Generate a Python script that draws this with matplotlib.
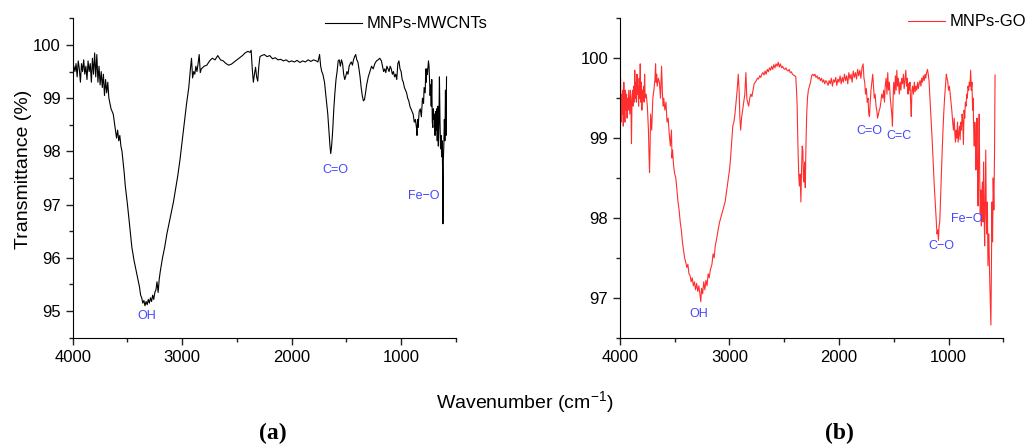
import matplotlib
matplotlib.use('Agg')
import matplotlib.pyplot as plt
from matplotlib.ticker import MultipleLocator

plt.rcParams['font.family'] = ['Liberation Sans', 'DejaVu Sans']

# (a) MNPs-MWCNTs spectrum
wn_a = [4000, 3990, 3980, 3970, 3960, 3950, 3940, 3930, 3920, 3910, 3900, 3890, 3880, 3870,
        3860, 3850, 3840, 3830, 3820, 3810, 3800, 3790, 3780, 3770, 3760, 3750, 3740, 3730,
        3720, 3710, 3700, 3690, 3680, 3670, 3660, 3650, 3640, 3630, 3620, 3610, 3600, 3590,
        3580, 3570, 3560, 3550, 3540, 3530, 3520, 3500, 3480, 3460, 3440, 3420, 3400, 3390,
        3380, 3370, 3360, 3350, 3340, 3330, 3320, 3310, 3300, 3290, 3280, 3270, 3260, 3250,
        3240, 3230, 3220, 3210, 3200, 3180, 3160, 3140, 3120, 3100, 3080, 3060, 3040, 3020,
        3000, 2980, 2960, 2940, 2925, 2915, 2905, 2895, 2885, 2875, 2865, 2855, 2845, 2835,
        2825, 2800, 2775, 2750, 2725, 2700, 2675, 2650, 2625, 2600, 2575, 2550, 2525, 2500,
        2475, 2450, 2425, 2400, 2380, 2370, 2360, 2350, 2340, 2330, 2320, 2310, 2300, 2290,
        2275, 2250, 2225, 2200, 2175, 2150, 2125, 2100, 2075, 2050, 2025, 2000, 1975, 1950,
        1925, 1900, 1875, 1850, 1825, 1800, 1775, 1760, 1745, 1735, 1725, 1715, 1700, 1690,
        1680, 1670, 1660, 1650, 1643, 1635, 1625, 1615, 1605, 1595, 1585, 1575, 1565, 1555,
        1545, 1535, 1525, 1515, 1505, 1495, 1485, 1475, 1465, 1455, 1445, 1435, 1425, 1415,
        1405, 1395, 1385, 1375, 1365, 1355, 1345, 1335, 1325, 1315, 1300, 1285, 1270, 1255,
        1240, 1225, 1210, 1195, 1180, 1170, 1160, 1150, 1140, 1130, 1120, 1110, 1100, 1090,
        1080, 1070, 1060, 1050, 1040, 1030, 1020, 1010, 1000, 990, 980, 970, 960, 950, 940,
        930, 920, 910, 900, 890, 880, 870, 860, 855, 850, 845, 835, 825, 815, 805, 795, 790,
        780, 775, 770, 765, 760, 750, 745, 740, 735, 730, 725, 720, 715, 710, 705, 700, 695,
        690, 685, 680, 675, 670, 665, 660, 655, 650, 645, 640, 635, 630, 625, 620, 618, 615,
        610, 605, 600, 595, 590, 585]
tr_a = [99.45, 99.6, 99.5, 99.65, 99.4, 99.7, 99.55, 99.3, 99.65, 99.5, 99.72, 99.45, 99.6, 99.35,
        99.7, 99.5, 99.65, 99.3, 99.75, 99.45, 99.85, 99.4, 99.82, 99.3, 99.6, 99.25, 99.5, 99.2,
        99.45, 99.05, 99.35, 99.1, 99.3, 99.0, 98.9, 98.8, 98.75, 98.7, 98.55, 98.4, 98.25, 98.4,
        98.2, 98.3, 98.1, 98.0, 97.8, 97.6, 97.35, 97.0, 96.6, 96.2, 95.95, 95.75, 95.55, 95.45,
        95.3, 95.25, 95.15, 95.2, 95.1, 95.18, 95.12, 95.22, 95.15, 95.25, 95.18, 95.3, 95.22, 95.35,
        95.4, 95.55, 95.35, 95.6, 95.75, 96.0, 96.2, 96.45, 96.65, 96.85, 97.05, 97.3, 97.55, 97.85,
        98.2, 98.55, 98.9, 99.2, 99.55, 99.75, 99.38, 99.5, 99.45, 99.6, 99.5, 99.65, 99.82, 99.48,
        99.55, 99.6, 99.62, 99.7, 99.75, 99.72, 99.8, 99.72, 99.7, 99.65, 99.62, 99.64, 99.68, 99.72,
        99.76, 99.8, 99.85, 99.88, 99.86, 99.9, 99.55, 99.3, 99.45, 99.58, 99.4, 99.32, 99.6, 99.78,
        99.8, 99.82, 99.78, 99.8, 99.74, 99.76, 99.72, 99.73, 99.7, 99.72, 99.68, 99.7, 99.68, 99.71,
        99.67, 99.7, 99.68, 99.72, 99.69, 99.72, 99.7, 99.68, 99.82, 99.6, 99.5, 99.45, 99.3, 99.1,
        98.9, 98.7, 98.4, 98.1, 97.96, 98.1, 98.4, 98.8, 99.1, 99.35, 99.5, 99.7, 99.72, 99.6,
        99.72, 99.65, 99.45, 99.35, 99.42, 99.5, 99.45, 99.6, 99.65, 99.68, 99.62, 99.72, 99.78, 99.82,
        99.72, 99.68, 99.55, 99.4, 99.2, 99.05, 98.95, 98.97, 99.1, 99.25, 99.4, 99.5, 99.6, 99.55,
        99.65, 99.7, 99.72, 99.75, 99.7, 99.6, 99.5, 99.55, 99.48, 99.6, 99.55, 99.5, 99.6, 99.55,
        99.45, 99.5, 99.4, 99.45, 99.35, 99.65, 99.7, 99.55, 99.5, 99.35, 99.3, 99.2, 99.15, 99.1, 99.0,
        98.95, 98.85, 98.8, 98.75, 98.7, 98.55, 98.6, 98.45, 98.3, 98.6, 98.45, 98.75, 98.8, 98.65, 99.0, 98.9, 99.2,
        99.1, 99.55, 99.3, 99.55, 99.45, 99.7, 99.6, 99.3, 99.05, 99.25, 98.85, 99.35, 98.55, 98.45, 98.8, 98.6, 98.7,
        98.3, 98.75, 98.4, 98.8, 98.2, 98.85, 98.1, 98.5, 99.4, 98.6, 98.05, 98.3, 97.9, 98.2, 97.5, 96.64, 97.8,
        98.1, 98.6, 98.2, 99.15, 98.3, 99.4]

# (b) MNPs-GO spectrum
wn_b = [4000, 3995, 3990, 3985, 3980, 3975, 3970, 3965, 3960, 3955, 3950, 3945, 3940, 3935,
        3930, 3925, 3920, 3910, 3905, 3900, 3895, 3890, 3885, 3880, 3875, 3870, 3865, 3860,
        3855, 3850, 3845, 3840, 3835, 3830, 3825, 3820, 3815, 3810, 3805, 3800, 3795, 3790,
        3785, 3780, 3775, 3770, 3760, 3750, 3740, 3735, 3730, 3725, 3720, 3710, 3700, 3690,
        3680, 3675, 3670, 3665, 3660, 3650, 3640, 3630, 3620, 3612, 3605, 3600, 3590, 3580,
        3570, 3560, 3550, 3540, 3530, 3525, 3520, 3510, 3500, 3490, 3480, 3470, 3460, 3450,
        3440, 3430, 3420, 3410, 3400, 3390, 3380, 3370, 3360, 3350, 3340, 3330, 3320, 3310,
        3300, 3290, 3280, 3270, 3262, 3255, 3245, 3235, 3225, 3215, 3205, 3195, 3185, 3175,
        3160, 3150, 3140, 3130, 3120, 3110, 3100, 3090, 3080, 3070, 3060, 3050, 3040, 3030,
        3020, 3010, 3000, 2990, 2980, 2970, 2960, 2950, 2940, 2930, 2920, 2912, 2905, 2898,
        2890, 2880, 2870, 2860, 2850, 2842, 2835, 2825, 2815, 2805, 2795, 2785, 2775, 2765,
        2755, 2745, 2735, 2725, 2715, 2705, 2695, 2685, 2675, 2665, 2655, 2645, 2635, 2625,
        2615, 2605, 2595, 2585, 2575, 2565, 2555, 2545, 2535, 2525, 2515, 2505, 2495, 2485,
        2475, 2465, 2455, 2445, 2435, 2425, 2415, 2405, 2395, 2388, 2382, 2375, 2368, 2362,
        2355, 2348, 2342, 2336, 2330, 2325, 2320, 2314, 2308, 2302, 2295, 2288, 2280, 2270,
        2260, 2250, 2240, 2230, 2220, 2210, 2200, 2190, 2180, 2170, 2160, 2150, 2140, 2130,
        2120, 2110, 2100, 2090, 2080, 2070, 2060, 2050, 2040, 2030, 2020, 2010, 2000, 1990,
        1980, 1970, 1960, 1950, 1940, 1930, 1920, 1910, 1900, 1890, 1880, 1870, 1860, 1850,
        1840, 1830, 1820, 1810, 1800, 1790, 1780, 1772, 1765, 1758, 1750, 1742, 1735, 1728,
        1722, 1715, 1708, 1700, 1692, 1685, 1678, 1670, 1662, 1655, 1648, 1640, 1632, 1625,
        1618, 1610, 1600, 1592, 1585, 1578, 1570, 1562, 1555, 1548, 1540, 1532, 1525, 1518,
        1512, 1506, 1500, 1492, 1485, 1478, 1472, 1465, 1458, 1450, 1442, 1435, 1428, 1420,
        1412, 1405, 1398, 1390, 1383, 1376, 1370, 1364, 1358, 1352, 1346, 1340, 1334, 1328,
        1320, 1312, 1305, 1298, 1290, 1282, 1275, 1268, 1260, 1252, 1245, 1238, 1230, 1222,
        1215, 1208, 1200, 1192, 1185, 1178, 1170, 1160, 1150, 1140, 1130, 1120, 1112, 1105,
        1098, 1092, 1086, 1080, 1074, 1068, 1060, 1052, 1044, 1036, 1028, 1020, 1014, 1008,
        1000, 992, 985, 978, 970, 962, 955, 948, 942, 936, 930, 924, 918, 912, 906, 900, 894,
        888, 882, 876, 870, 864, 858, 852, 846, 840, 834, 828, 822, 816, 810, 804, 798, 792,
        786, 780, 775, 770, 765, 760, 755, 750, 745, 740, 735, 730, 725, 720, 715, 710, 705,
        700, 695, 690, 685, 680, 675, 670, 665, 660, 655, 650, 645, 640, 632, 625, 618, 613,
        608, 603, 598, 592, 586, 580, 575]
tr_b = [99.4, 99.75, 99.2, 99.55, 99.3, 99.6, 99.15, 99.7, 99.4, 99.2, 99.6, 99.35, 99.55, 99.25,
        99.5, 99.35, 99.6, 99.3, 99.6, 99.45, 98.93, 99.5, 99.6, 99.4, 99.65, 99.45, 99.85, 99.5,
        99.7, 99.45, 99.8, 99.55, 99.65, 99.4, 99.75, 99.5, 99.93, 99.45, 99.7, 99.35, 99.6, 99.5,
        99.65, 99.45, 99.8, 99.5, 99.55, 99.4, 99.1, 98.8, 98.57, 98.9, 99.3, 99.1, 99.5, 99.6,
        99.75, 99.93, 99.7, 99.8, 99.65, 99.75, 99.7, 99.5, 99.9, 99.55, 99.4, 99.5, 99.35, 99.45,
        99.2, 99.25, 99.05, 98.9, 99.1, 98.75, 98.85, 98.65, 98.55, 98.5, 98.35, 98.2, 98.1, 97.95,
        97.85, 97.7, 97.6, 97.5, 97.45, 97.38, 97.42, 97.3, 97.28, 97.2, 97.25, 97.15, 97.2, 97.1,
        97.18, 97.08, 97.15, 97.05, 96.95, 97.12, 97.05, 97.2, 97.1, 97.22, 97.15, 97.3, 97.25, 97.35,
        97.42, 97.55, 97.5, 97.65, 97.72, 97.8, 97.88, 97.95, 98.0, 98.05, 98.1, 98.15, 98.2, 98.3,
        98.4, 98.5, 98.6, 98.75, 98.95, 99.15, 99.2, 99.3, 99.45, 99.6, 99.8, 99.6, 99.25, 99.1,
        99.25, 99.35, 99.45, 99.55, 99.82, 99.5, 99.45, 99.4, 99.5, 99.55, 99.52, 99.6, 99.68, 99.7,
        99.72, 99.75, 99.74, 99.78, 99.76, 99.8, 99.82, 99.79, 99.84, 99.8, 99.86, 99.83, 99.88, 99.85,
        99.9, 99.86, 99.92, 99.88, 99.93, 99.9, 99.95, 99.89, 99.93, 99.88, 99.9, 99.87, 99.86, 99.88,
        99.85, 99.84, 99.86, 99.82, 99.83, 99.8, 99.79, 99.78, 99.77, 99.6, 99.4, 98.9, 98.55, 98.4,
        98.55, 98.2, 98.6, 98.9, 98.85, 98.5, 98.45, 98.7, 98.38, 98.9, 99.3, 99.5, 99.6, 99.65,
        99.7, 99.78, 99.8, 99.78, 99.8, 99.76, 99.78, 99.74, 99.76, 99.72, 99.75, 99.7, 99.73, 99.68,
        99.72, 99.7, 99.66, 99.72, 99.68, 99.75, 99.65, 99.73, 99.7, 99.76, 99.66, 99.74, 99.7, 99.78,
        99.68, 99.76, 99.7, 99.8, 99.72, 99.78, 99.68, 99.82, 99.74, 99.8, 99.7, 99.84, 99.76, 99.82,
        99.74, 99.86, 99.78, 99.85, 99.75, 99.88, 99.93, 99.75, 99.7, 99.55, 99.62, 99.45, 99.5, 99.3,
        99.27, 99.45, 99.6, 99.7, 99.8, 99.65, 99.5, 99.55, 99.4, 99.35, 99.25, 99.3, 99.35, 99.38,
        99.45, 99.55, 99.5, 99.6, 99.45, 99.65, 99.75, 99.55, 99.82, 99.6, 99.7, 99.5, 99.4, 99.3,
        99.15, 99.5, 99.7, 99.55, 99.78, 99.6, 99.85, 99.65, 99.75, 99.55, 99.7, 99.6, 99.75, 99.68,
        99.8, 99.62, 99.72, 99.85, 99.65, 99.75, 99.55, 99.68, 99.6, 99.7, 99.45, 99.27, 99.6, 99.65,
        99.55, 99.7, 99.58, 99.65, 99.6, 99.7, 99.62, 99.68, 99.72, 99.65, 99.75, 99.7, 99.78, 99.72,
        99.8, 99.75, 99.82, 99.86, 99.8, 99.72, 99.5, 99.25, 99.0, 98.7, 98.4, 98.15, 97.95, 97.8,
        97.85, 97.72, 97.9, 97.95, 98.2, 98.45, 98.75, 99.05, 99.3, 99.5, 99.65, 99.8, 99.75, 99.72,
        99.6, 99.65, 99.55, 99.45, 99.35, 99.2, 99.1, 99.25, 99.05, 98.95, 99.1, 99.0, 99.2, 98.95, 99.05, 99.15, 98.98,
        99.2, 99.1, 99.3, 99.22, 98.92, 99.35, 99.25, 99.45, 99.4, 99.55, 99.5, 99.65, 99.6, 99.7, 99.65, 99.85, 99.6,
        99.7, 99.35, 99.5, 99.1, 98.9, 99.2, 99.05, 98.6, 98.85, 99.25, 98.6, 98.15, 98.8, 99.3, 98.5, 98.06, 98.35,
        97.9, 98.3, 98.45, 97.95, 98.7, 98.1, 97.65, 98.3, 98.85, 98.0, 97.8, 98.2, 97.4, 97.8, 97.3, 96.9, 96.66,
        97.5, 98.2, 97.7, 98.5, 98.1, 98.8, 99.79]

labels_a = [('OH', 3322, 94.9), ('C=O', 1598, 97.66), ('Fe\u2212O', 795, 97.17)]
labels_b = [('OH', 3285, 96.8), ('C=O', 1723, 99.09), ('C=C', 1449, 99.03),
            ('C\u2212O', 1062, 97.65), ('Fe\u2212O', 834, 97.99)]

fig = plt.figure(figsize=(10.29, 4.47), dpi=100)
ax1 = fig.add_axes([0.0707, 0.2445, 0.3723, 0.7145])
ax2 = fig.add_axes([0.6025, 0.2445, 0.3725, 0.7145])

blue = '#4646ff'
for ax, wn, tr, col, name, ylim, labels in [
        (ax1, wn_a, tr_a, 'black', 'MNPs-MWCNTs', (94.5, 100.5), labels_a),
        (ax2, wn_b, tr_b, '#ff2e2e', 'MNPs-GO', (96.5, 100.5), labels_b)]:
    ax.plot(wn, tr, color=col, lw=0.8, label=name)
    ax.set_xlim(4000, 500)
    ax.set_ylim(*ylim)
    ax.spines['top'].set_visible(False)
    ax.spines['right'].set_visible(False)
    ax.xaxis.set_major_locator(MultipleLocator(1000))
    ax.xaxis.set_minor_locator(MultipleLocator(500))
    ax.yaxis.set_major_locator(MultipleLocator(1))
    ax.yaxis.set_minor_locator(MultipleLocator(0.5))
    ax.tick_params(which='major', direction='out', length=5, width=1, labelsize=12, color='#222222')
    ax.tick_params(which='minor', direction='out', length=3, width=1, color='#222222')
    for txt, x, y in labels:
        ax.text(x, y, txt, color=blue, fontsize=9, ha='center', va='center')

ax1.legend(loc='center left', bbox_to_anchor=(325 / 1029, 1 - 24 / 447), bbox_transform=fig.transFigure,
           frameon=False, fontsize=12, handlelength=2.2, handletextpad=0.3, borderpad=0, borderaxespad=0)
ax2.legend(loc='center left', bbox_to_anchor=(908 / 1029, 1 - 22 / 447), bbox_transform=fig.transFigure,
           frameon=False, fontsize=12, handlelength=2.2, handletextpad=0.3, borderpad=0, borderaxespad=0)

fig.text(24 / 1029, 1 - 169 / 447, 'Transmittance (%)', rotation=90, fontsize=14, ha='center', va='center')
fig.text(525 / 1029, 1 - 403 / 447, 'Wavenumber (cm$^{\\mathregular{-1}}$)', fontsize=14, ha='center', va='center')
fig.text(273 / 1029, 1 - 433 / 447, '(a)', fontsize=17, fontweight='bold', family='Liberation Serif', ha='center', va='center')
fig.text(839 / 1029, 1 - 433 / 447, '(b)', fontsize=17, fontweight='bold', family='Liberation Serif', ha='center', va='center')

fig.savefig('out.png', dpi=100)
